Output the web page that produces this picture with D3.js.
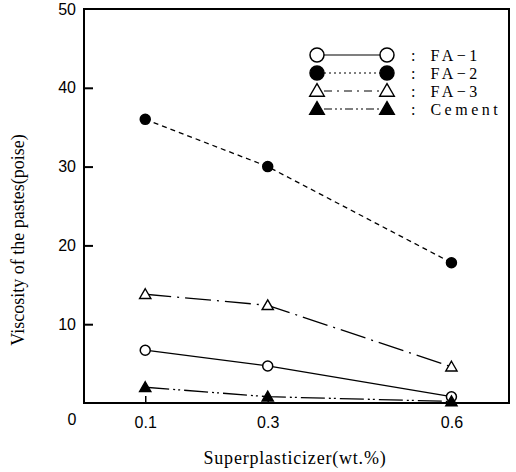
<!DOCTYPE html>
<html>
<head>
<meta charset="utf-8">
<script src="https://cdn.jsdelivr.net/npm/d3@7"></script>
<style>
  body { margin: 0; background: #fff; }
  .num { font-family: "Liberation Sans", Arial, sans-serif; font-size: 16px; }
  .title { font-family: "Liberation Serif", "DejaVu Serif", serif; font-size: 18px; }
  .leg { font-family: "Liberation Serif", "DejaVu Serif", serif; font-size: 16px; letter-spacing: 3.5px; }
</style>
</head>
<body>
<script>
// superplasticizer dosage (wt.%)
var dosage = [0.1, 0.3, 0.6];
var seriesNames = ["FA\u22121", "FA\u22122", "FA\u22123", "Cement"];
var fa1 = [6.7, 4.7, 0.8];
var fa2 = [36, 30, 17.8];
var fa3 = [13.8, 12.4, 4.6];
var cement = [2.0, 0.8, 0.2];
var yTicks = [10, 20, 30, 40, 50];
var xTicks = [0.1, 0.3, 0.6];

window.onload = function(){
    var w = 516, h = 472;
    var left = 84, right = 509, top = 9, bottom = 403;

    var svg = d3.select("body").append("svg")
        .attr("width", w)
        .attr("height", h);

    var x = d3.scaleLinear().domain([0, 0.694]).range([left, right]);
    var y = d3.scaleLinear().domain([0, 50]).range([bottom, top]);

    var series = [
        {name: seriesNames[0], values: fa1, marker: "circle", fill: "#fff", dash: null},
        {name: seriesNames[1], values: fa2, marker: "circle", fill: "#000", dash: "5,4"},
        {name: seriesNames[2], values: fa3, marker: "triangle", fill: "#fff", dash: "26,6,2,6"},
        {name: seriesNames[3], values: cement, marker: "triangle", fill: "#000", dash: "24,4,2,3,2,4"}
    ];

    // frame
    svg.append("rect")
        .attr("x", left).attr("y", top)
        .attr("width", right - left).attr("height", bottom - top)
        .attr("fill", "none").attr("stroke", "#000").attr("stroke-width", 2);

    // y axis ticks (inward)
    var yAxis = d3.axisLeft(y).tickValues(yTicks).tickSize(-9).tickPadding(8);
    var gy = svg.append("g").attr("transform", "translate(" + left + ",0)").call(yAxis);
    gy.select(".domain").remove();
    gy.selectAll("line").attr("stroke-width", 2);
    gy.attr("font-family", null).attr("font-size", null);
    gy.selectAll("text").attr("class", "num");
    gy.selectAll(".tick").filter(function(d){ return d === 50; }).select("line").remove();

    // x axis ticks (inward)
    var xAxis = d3.axisBottom(x).tickValues(xTicks).tickSize(-7).tickPadding(14).tickFormat(d3.format(".1f"));
    var gx = svg.append("g").attr("transform", "translate(0," + bottom + ")").call(xAxis);
    gx.select(".domain").remove();
    gx.selectAll("line").attr("stroke-width", 1.5);
    gx.attr("font-family", null).attr("font-size", null);
    gx.selectAll("text").attr("class", "num");

    // origin label
    svg.append("text")
        .attr("class", "num")
        .attr("x", left - 12).attr("y", bottom + 22)
        .attr("text-anchor", "middle")
        .text("0");

    var tri = d3.symbol().type(d3.symbolTriangle);

    function drawMarker(g, s, cx, cy, size) {
        if (s.marker === "circle") {
            g.append("circle").attr("cx", cx).attr("cy", cy).attr("r", size)
                .attr("fill", s.fill).attr("stroke", "#000").attr("stroke-width", 1.5);
        } else {
            g.append("path").attr("d", tri.size(size * size * 2.2)())
                .attr("transform", "translate(" + cx + "," + (cy + 1) + ")")
                .attr("fill", s.fill).attr("stroke", "#000").attr("stroke-width", 1.4);
        }
    }

    var line = d3.line()
        .x(function(d){ return x(d[0]); })
        .y(function(d){ return y(d[1]); });

    series.forEach(function(s){
        var pts = dosage.map(function(d, i){ return [d, s.values[i]]; });
        svg.append("path")
            .datum(pts)
            .attr("d", line)
            .attr("fill", "none")
            .attr("stroke", "#000")
            .attr("stroke-width", 1.3)
            .attr("stroke-dasharray", s.dash);
        var g = svg.append("g");
        pts.forEach(function(p){
            drawMarker(g, s, x(p[0]), y(p[1]), 5);
        });
    });

    // legend
    var legend = svg.append("g").attr("transform", "translate(317,55)");
    var legendDash = [null, "2,3", "8,5,2,5", "8,3,2,3,2,3"];
    series.forEach(function(s, i){
        var ly = i * 18;
        legend.append("line")
            .attr("x1", 7).attr("x2", 63).attr("y1", ly).attr("y2", ly)
            .attr("stroke", "#000").attr("stroke-width", 1.2)
            .attr("stroke-dasharray", legendDash[i]);
        drawMarker(legend, s, 0, ly, s.marker === "circle" ? 7 : 6.5);
        drawMarker(legend, s, 70, ly, s.marker === "circle" ? 7 : 6.5);
        legend.append("text")
            .attr("class", "leg")
            .attr("x", 94).attr("y", ly + 6)
            .text(":\u2002" + s.name);
    });

    // axis titles
    svg.append("text")
        .attr("class", "title")
        .attr("x", 295).attr("y", 464)
        .attr("text-anchor", "middle")
        .style("letter-spacing", "0.8px")
        .text("Superplasticizer(wt.%)");

    svg.append("text")
        .attr("class", "title")
        .attr("transform", "translate(24,240) rotate(-90)")
        .attr("text-anchor", "middle")
        .text("Viscosity of the pastes(poise)");
};
</script>
</body>
</html>
